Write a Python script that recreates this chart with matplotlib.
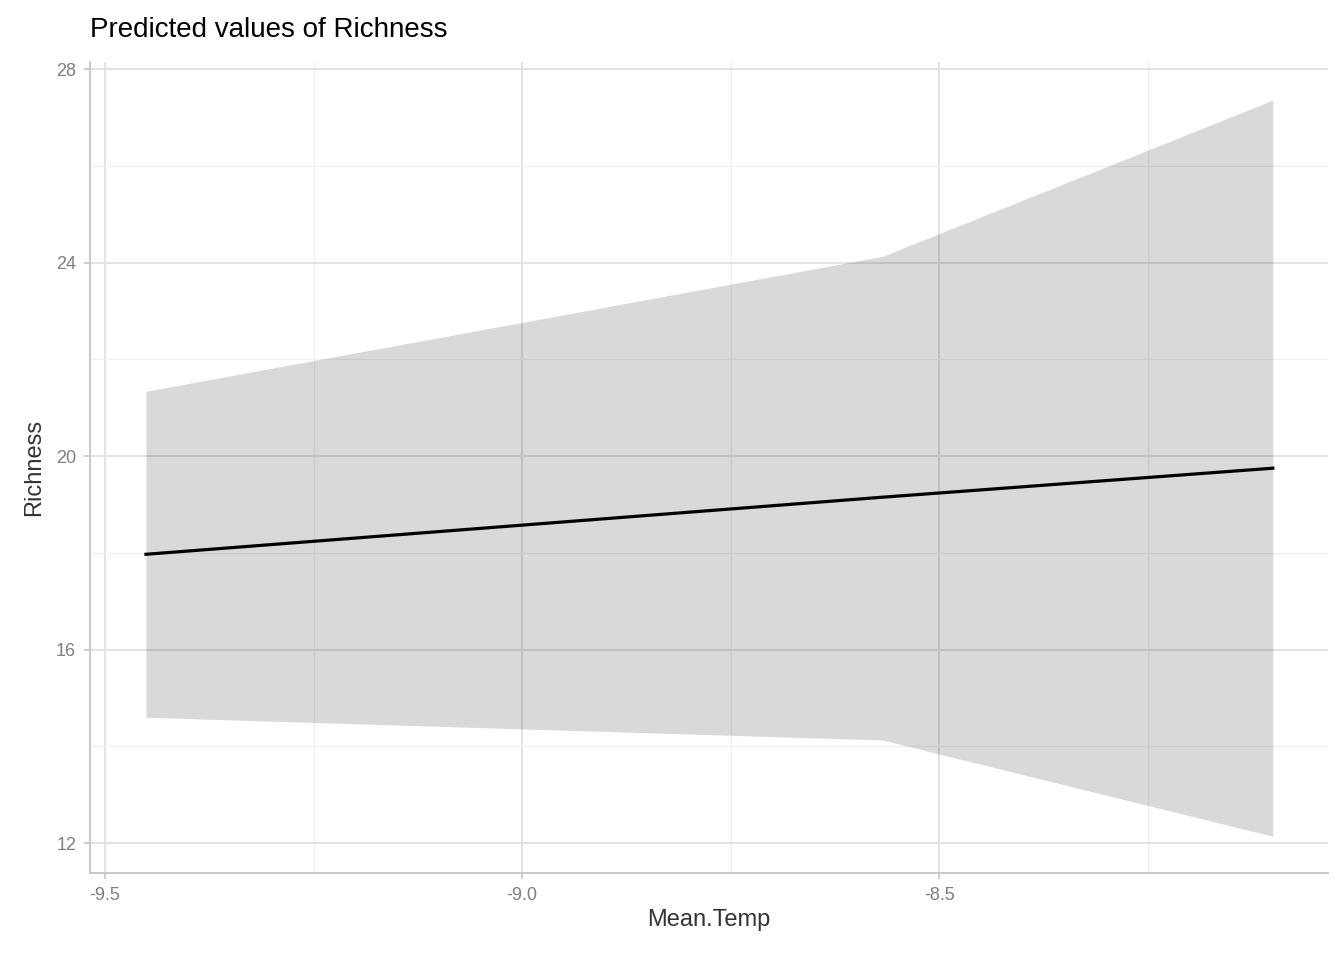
import numpy as np
import matplotlib.pyplot as plt
from matplotlib.ticker import MultipleLocator

# data
mean_temp = [-9.451, -8.568, -8.1]
predicted = [17.97, 19.15, 19.75]
conf_low = [14.60, 14.13, 12.14]
conf_high = [21.34, 24.13, 27.36]

plt.rcParams['font.family'] = ['Liberation Sans', 'DejaVu Sans']

fig = plt.figure(figsize=(13.44, 9.6), dpi=100)
ax = fig.add_axes([0.067, 0.0906, 0.921, 0.8444])

ax.set_xlim(-9.518, -8.034)
ax.set_ylim(11.38, 28.14)
ax.set_xticks([-9.5, -9.0, -8.5])
ax.set_xticklabels(['-9.5', '-9.0', '-8.5'])
ax.set_yticks([12, 16, 20, 24, 28])
ax.xaxis.set_minor_locator(MultipleLocator(0.25))
ax.yaxis.set_minor_locator(MultipleLocator(2))

ax.grid(which='major', color='#e3e3e3', lw=1.4)
ax.grid(which='minor', color='#f0f0f0', lw=0.9)
ax.set_axisbelow(True)

ax.fill_between(mean_temp, conf_low, conf_high, color='black', alpha=0.15, lw=0, zorder=2)
ax.plot(mean_temp, predicted, color='black', lw=2.3, zorder=3)

for s in ['top', 'right']:
    ax.spines[s].set_visible(False)
for s in ['left', 'bottom']:
    ax.spines[s].set_color('#c8c8c8')
    ax.spines[s].set_linewidth(1.4)
ax.tick_params(which='major', color='#c8c8c8', length=4, width=1.2,
               labelsize=13, labelcolor='#7f7f7f', pad=6)
ax.tick_params(which='minor', length=0)

ax.set_xlabel('Mean.Temp', fontsize=17, color='#333333', labelpad=4)
ax.set_ylabel('Richness', fontsize=17, color='#333333', labelpad=8)
ax.set_title('Predicted values of Richness', fontsize=20, loc='left', x=0.0, pad=18)

fig.savefig('out.png', dpi=100)
